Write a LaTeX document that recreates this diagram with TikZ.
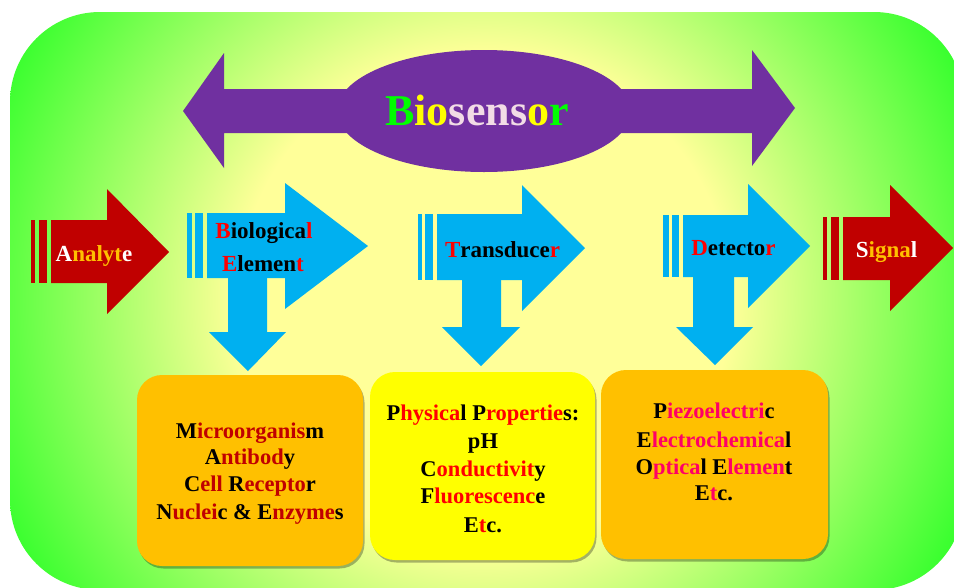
\documentclass[tikz,border=0pt]{standalone}
\usepackage{fontspec}
\setmainfont{Liberation Serif}
\usetikzlibrary{shadows}
\definecolor{bgY}{HTML}{FFFF99}
\definecolor{bgG}{HTML}{22FF22}
\definecolor{arrRed}{HTML}{C00000}
\definecolor{arrCyan}{HTML}{00B0F0}
\definecolor{arrPurple}{HTML}{7030A0}
\definecolor{gold}{HTML}{FFC000}
\definecolor{boxYellow}{HTML}{FFFF00}
\definecolor{dRed}{HTML}{C00000}
\definecolor{bRed}{HTML}{FF0000}
\definecolor{pinkT}{HTML}{FF0066}
\definecolor{bioGreen}{HTML}{00FF00}
\definecolor{bioYellow}{HTML}{FFFF00}
\definecolor{bioPink}{HTML}{F2DCE6}
\pgfdeclareradialshading{bgshade}{\pgfpoint{0bp}{0bp}}{color(0bp)=(bgY); color(11bp)=(bgY); color(25bp)=(bgG); color(50bp)=(bgG)}
\begin{document}
\begin{tikzpicture}[x=1pt,y=-1pt,
  lbl/.style={anchor=base, inner sep=0pt, font=\bfseries\fontsize{23}{26}\selectfont},
  btxt/.style={anchor=base, inner sep=0pt, font=\bfseries\fontsize{22.5}{27}\selectfont},
  infobox/.style={rounded corners=25pt, inner sep=0pt, draw=none,
    drop shadow={shadow xshift=1.5pt, shadow yshift=-2.5pt, opacity=0.3, fill=black}}]
\useasboundingbox (0,0) rectangle (954,587);
% background
\begin{scope}
\clip (0,0) rectangle (954,587);
\clip[rounded corners=90pt] (10,12) rectangle (964,590);
\shade[shading=bgshade] (484,300) circle (560);
\end{scope}
% purple double arrow
\fill[arrPurple] (183,111) -- (224,53) -- (224,89) -- (752,89) -- (752,50) -- (795,108)
  -- (752,166) -- (752,133) -- (224,133) -- (224,168) -- cycle;
\fill[arrPurple] (484,111) ellipse [x radius=147, y radius=61];
\node[anchor=base, inner sep=0pt, font=\bfseries\fontsize{44}{50}\selectfont] (bio) at (477,125)
  {\textcolor{bioGreen}{B}\textcolor{bioYellow}{io}\textcolor{bioPink}{sens}\textcolor{bioYellow}{o}\textcolor{bioGreen}{r}};
% Analyte arrow
\fill[arrRed] (31,220) rectangle (35,283);
\fill[arrRed] (39,220) rectangle (47,283);
\fill[arrRed] (51,220) -- (107,220) -- (107,189) -- (169,252) -- (107,314) -- (107,283) -- (51,283) -- cycle;
\node[lbl] (analyte) at (94,261) {\textcolor{white}{A}\textcolor{gold}{nalyt}\textcolor{white}{e}};
% Biological element arrow
\fill[arrCyan] (187,213) rectangle (192,278);
\fill[arrCyan] (195,213) rectangle (203,278);
\fill[arrCyan] (207,213) -- (285,213) -- (285,183) -- (368,246) -- (285,309) -- (285,278) -- (207,278) -- cycle;
\fill[arrCyan] (228,270) -- (267,270) -- (267,332) -- (286,332) -- (248,371) -- (209,332) -- (228,332) -- cycle;
\node[lbl] (biol1) at (264,238) {\textcolor{bRed}{B}iologica\textcolor{bRed}{l}};
\node[lbl] (biol2) at (263,271) {\textcolor{bRed}{E}lemen\textcolor{bRed}{t}};
% Transducer arrow
\fill[arrCyan] (418,214) rectangle (422,280);
\fill[arrCyan] (425,214) rectangle (433,280);
\fill[arrCyan] (437,214) -- (522,214) -- (522,185) -- (585,248) -- (522,311) -- (522,280) -- (437,280) -- cycle;
\fill[arrCyan] (462,272) -- (501,272) -- (501,327) -- (520,327) -- (481,366) -- (442,327) -- (462,327) -- cycle;
\node[lbl] (trans) at (502.5,257) {\textcolor{bRed}{T}ransduce\textcolor{bRed}{r}};
% Detector arrow
\fill[arrCyan] (663,215) rectangle (669,277);
\fill[arrCyan] (672,215) rectangle (679,277);
\fill[arrCyan] (683,215) -- (748,215) -- (748,184) -- (810,246) -- (748,308) -- (748,277) -- (683,277) -- cycle;
\fill[arrCyan] (693,270) -- (734,270) -- (734,327) -- (753,327) -- (715,365) -- (676,327) -- (693,327) -- cycle;
\node[lbl] (detect) at (733.5,255) {\textcolor{bRed}{D}etecto\textcolor{bRed}{r}};
% Signal arrow
\fill[arrRed] (823,217) rectangle (827,280);
\fill[arrRed] (831,217) rectangle (839,280);
\fill[arrRed] (843,217) -- (890,217) -- (890,185) -- (953,248) -- (890,311) -- (890,280) -- (843,280) -- cycle;
\node[lbl] (signal) at (886.5,257) {\textcolor{white}{S}\textcolor{gold}{igna}\textcolor{white}{l}};
% boxes
\node[infobox, fill=gold, minimum width=226pt, minimum height=191pt] (box1) at (250,470.5) {};
\node[infobox, fill=boxYellow, minimum width=225pt, minimum height=188pt] (box2) at (482.5,466) {};
\node[infobox, fill=gold, minimum width=227pt, minimum height=189pt] (box3) at (714.5,464.5) {};
% box 1 text
\node[btxt] (b1a) at (250,438) {M\textcolor{dRed}{icroorganis}m};
\node[btxt] (b1b) at (250,464) {A\textcolor{dRed}{ntibod}y};
\node[btxt] (b1c) at (250,491) {C\textcolor{dRed}{ell} R\textcolor{dRed}{ecepto}r};
\node[btxt] (b1d) at (250,519) {N\textcolor{dRed}{uclei}c \& E\textcolor{dRed}{nzyme}s};
% box 2 text
\node[btxt] (b2a) at (483,420) {P\textcolor{bRed}{hysica}l P\textcolor{bRed}{ropertie}s:};
\node[btxt] (b2b) at (483,448) {pH};
\node[btxt] (b2c) at (483,476) {C\textcolor{bRed}{onductivit}y};
\node[btxt] (b2d) at (483,503) {F\textcolor{bRed}{luorescenc}e};
\node[btxt] (b2e) at (483,532) {E\textcolor{bRed}{t}c.};
% box 3 text
\node[btxt] (b3a) at (714,418) {P\textcolor{pinkT}{iezoelectri}c};
\node[btxt] (b3b) at (714,447) {E\textcolor{pinkT}{lectrochemica}l};
\node[btxt] (b3c) at (714,474) {O\textcolor{pinkT}{ptica}l E\textcolor{pinkT}{lemen}t};
\node[btxt] (b3d) at (714,500) {E\textcolor{pinkT}{t}c.};
\end{tikzpicture}
\end{document}
